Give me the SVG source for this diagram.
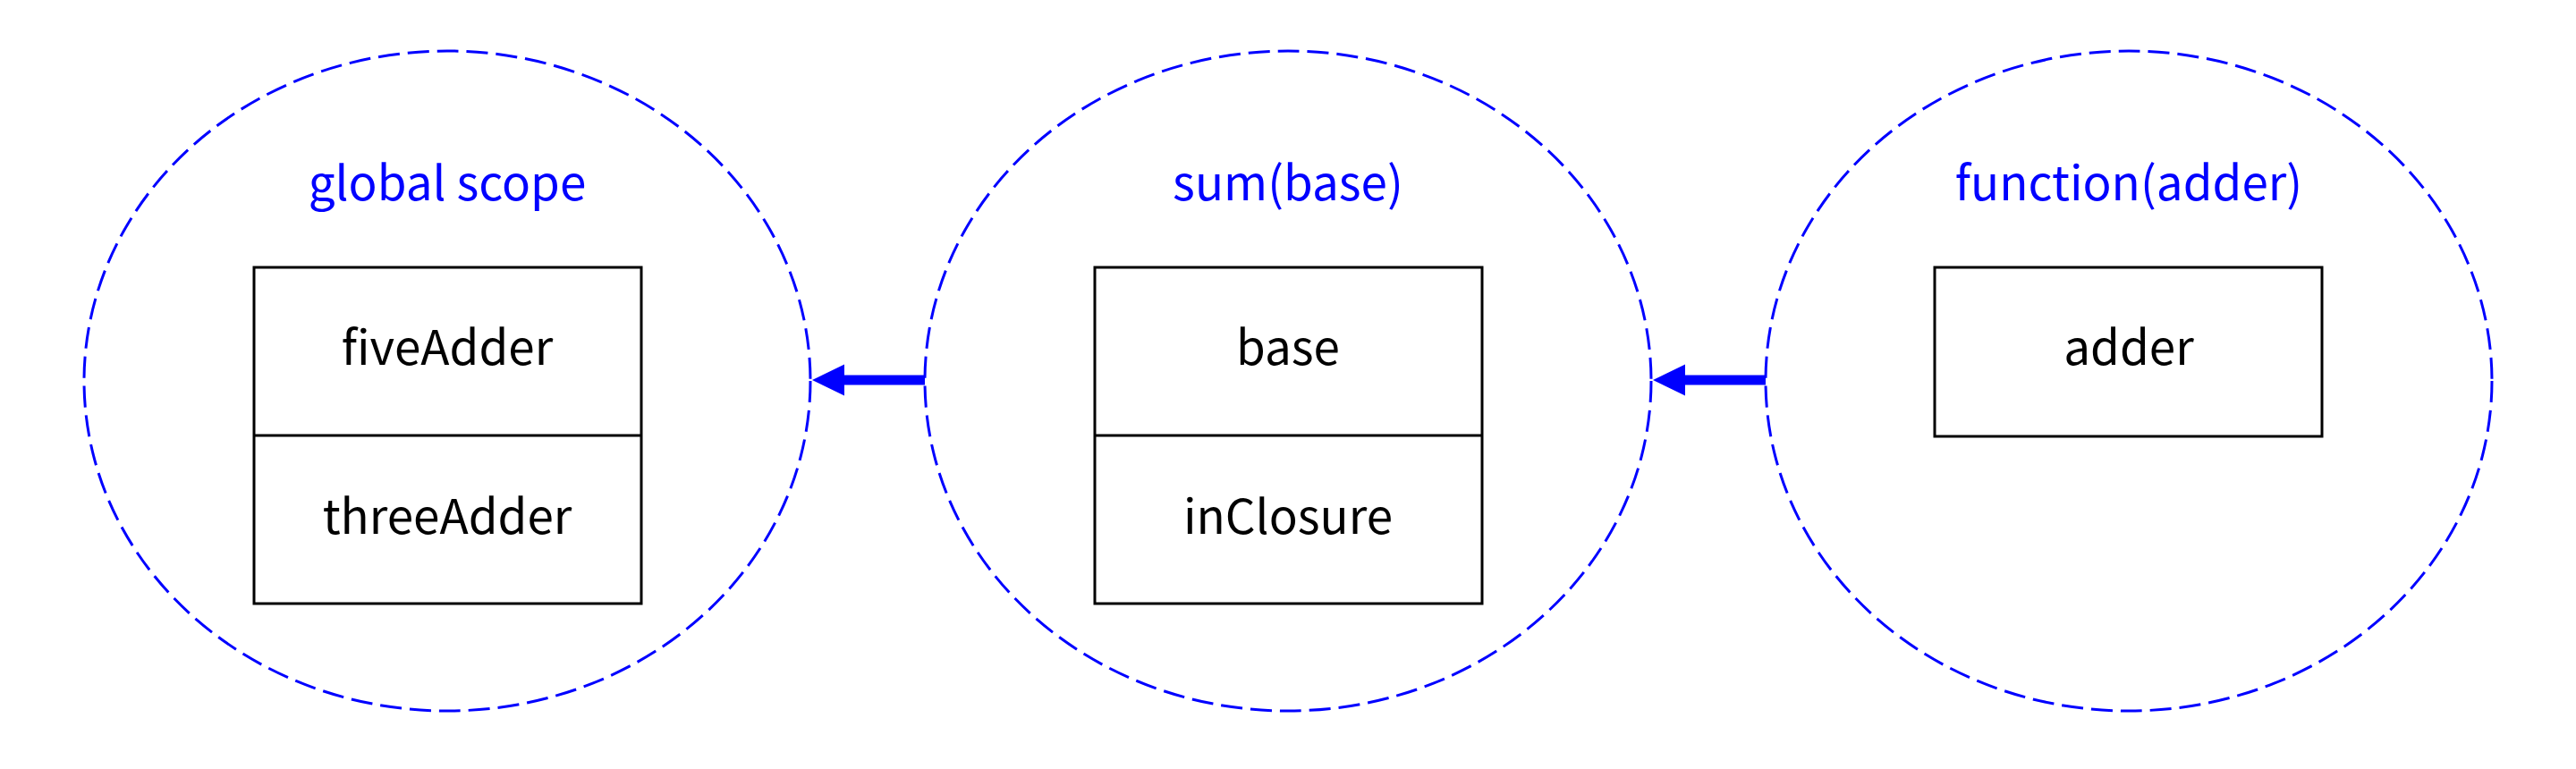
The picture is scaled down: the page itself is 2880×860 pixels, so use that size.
<svg xmlns="http://www.w3.org/2000/svg" width="2880" height="860" viewBox="0 0 2880 860">
<style>
.scope{fill:none;stroke:#0000ff;stroke-width:3;stroke-dasharray:24 9}
.title{font-family:"Noto Sans CJK KR","Noto Sans",sans-serif;font-size:53px;fill:#0000ff;text-anchor:middle}
.box{fill:#ffffff;stroke:#000000;stroke-width:3}
.div{stroke:#000000;stroke-width:3}
.lbl{font-family:"Noto Sans CJK KR","Noto Sans",sans-serif;font-size:53px;fill:#000000;text-anchor:middle}
.conn{stroke:#0000ff;stroke-width:11;fill:none}
</style>
<rect width="2880" height="860" fill="#ffffff"/>
<g id="global-scope">
<ellipse class="scope" cx="500" cy="426" rx="406" ry="369"/>
<text class="title" x="500" y="224">global scope</text>
<rect class="box" x="284" y="299" width="433" height="376"/>
<line class="div" x1="284" y1="487" x2="717" y2="487"/>
<text class="lbl" x="500" y="408">fiveAdder</text>
<text class="lbl" x="500" y="597">threeAdder</text>
</g>
<g id="sum-base">
<ellipse class="scope" cx="1440" cy="426" rx="406" ry="369"/>
<text class="title" x="1440" y="224">sum(base)</text>
<rect class="box" x="1224" y="299" width="433" height="376"/>
<line class="div" x1="1224" y1="487" x2="1657" y2="487"/>
<text class="lbl" x="1440" y="408">base</text>
<text class="lbl" x="1440" y="597">inClosure</text>
</g>
<g id="function-adder">
<ellipse class="scope" cx="2380" cy="426" rx="406" ry="369"/>
<text class="title" x="2380" y="224">function(adder)</text>
<rect class="box" x="2163" y="299" width="433" height="189"/>
<text class="lbl" x="2380" y="408">adder</text>
</g>
<g id="connectors">
<line class="conn" x1="1034" y1="425" x2="944" y2="425"/>
<path d="M944,407.5 L908,425 L944,442.5 Z" fill="#0000ff"/>
<line class="conn" x1="1974" y1="425" x2="1884" y2="425"/>
<path d="M1884,407.5 L1848,425 L1884,442.5 Z" fill="#0000ff"/>
</g>
</svg>
